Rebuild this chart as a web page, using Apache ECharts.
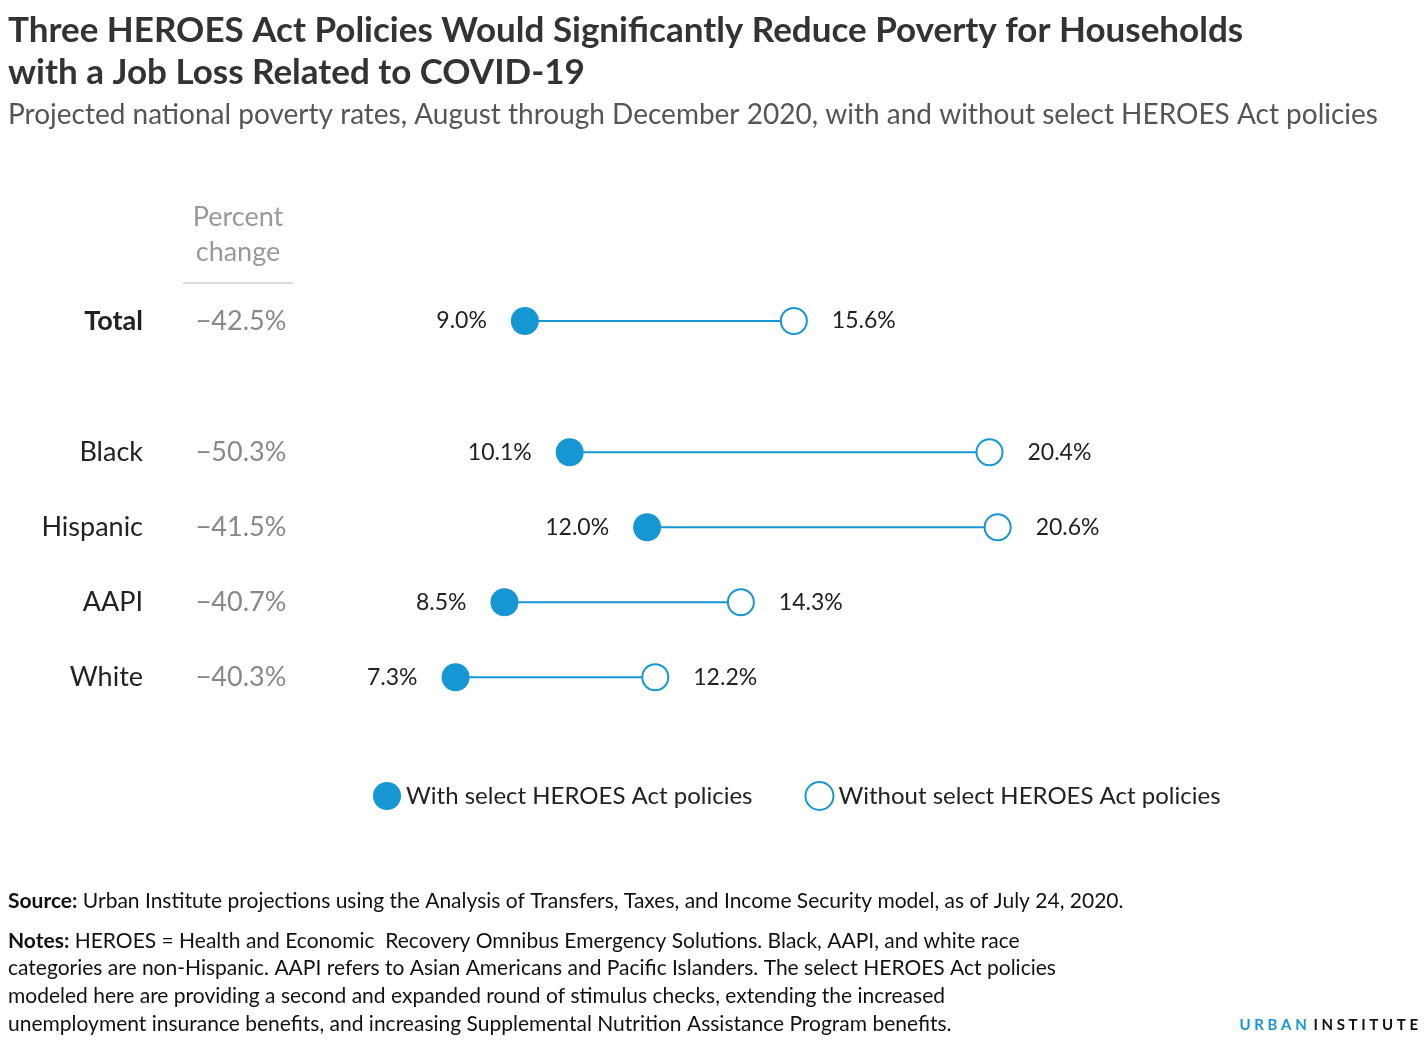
<!DOCTYPE html>
<html>
<head>
<meta charset="utf-8">
<script src="https://cdn.jsdelivr.net/npm/echarts@6/dist/echarts.min.js"></script>
<style>html,body{margin:0;background:#fff}#c{width:1428px;height:1043px}</style>
</head>
<body>
<div id="c"></div>
<script>
// 数据
var groups = ['Total', 'Black', 'Hispanic', 'AAPI', 'White'];
var rowPos = [0, 1.75, 2.75, 3.75, 4.75];
var pctChange = ['\u221242.5%', '\u221250.3%', '\u221241.5%', '\u221240.7%', '\u221240.3%'];
var withPolicy = [9.0, 10.1, 12.0, 8.5, 7.3];
var withoutPolicy = [15.6, 20.4, 20.6, 14.3, 12.2];

var blue = '#1696d2';
var font = 'Lato, "Open Sans", sans-serif';

var chart = echarts.init(document.getElementById('c'));

function pts(vals) {
    return vals.map(function (v, i) { return [v, rowPos[i]]; });
}
var segs = groups.map(function (g, i) { return [withPolicy[i], withoutPolicy[i], rowPos[i]]; });

var option = {
    animation: false,
    textStyle: { fontFamily: font },
    grid: { left: 158, width: 1019, top: 246, height: 525 },
    xAxis: { type: 'value', min: 0, max: 25, show: false },
    yAxis: { type: 'value', min: -1, max: 6, inverse: true, show: false },
    legend: {
        left: 368, top: 776, itemWidth: 28, itemHeight: 28, itemGap: 52,
        textStyle: { fontSize: 24, color: '#222', fontFamily: font },
        data: ['With select HEROES Act policies', 'Without select HEROES Act policies']
    },
    series: [
        {
            type: 'custom',
            data: segs,
            renderItem: function (params, api) {
                var a = api.coord([api.value(0), api.value(2)]);
                var b = api.coord([api.value(1), api.value(2)]);
                return { type: 'line', shape: { x1: a[0], y1: a[1], x2: b[0], y2: b[1] },
                    style: { stroke: blue, lineWidth: 2 } };
            },
            z: 1
        },
        {
            name: 'With select HEROES Act policies',
            type: 'scatter', symbol: 'circle', symbolSize: 28,
            itemStyle: { color: blue, opacity: 1 },
            data: pts(withPolicy),
            label: { show: true, position: 'left', distance: 24, fontSize: 23, color: '#222',
                formatter: function (p) { return p.value[0].toFixed(1) + '%'; } },
            z: 3
        },
        {
            name: 'Without select HEROES Act policies',
            type: 'scatter', symbol: 'circle', symbolSize: 26,
            itemStyle: { color: '#fff', borderColor: blue, borderWidth: 2, opacity: 1 },
            data: pts(withoutPolicy),
            label: { show: true, position: 'right', distance: 24, fontSize: 23, color: '#222',
                formatter: function (p) { return p.value[0].toFixed(1) + '%'; } },
            z: 3
        }
    ]
};
chart.setOption(option);

var g = [
    { type: 'text', left: 8, top: 10, style: { text: 'Three HEROES Act Policies Would Significantly Reduce Poverty for Households\nwith a Job Loss Related to COVID-19',
        font: 'bold 35px ' + font, fill: '#333', lineHeight: 42 } },
    { type: 'text', left: 8, top: 101, style: { text: 'Projected national poverty rates, August through December 2020, with and without select HEROES Act policies',
        font: '28px ' + font, fill: '#555' } },
    { type: 'text', x: 238, y: 200, style: { text: 'Percent\nchange', font: '27px ' + font, fill: '#999', align: 'center', lineHeight: 35 } },
    { type: 'line', shape: { x1: 183, y1: 283, x2: 293, y2: 283 }, style: { stroke: '#ddd', lineWidth: 2 } }
];
groups.forEach(function (name, i) {
    var y = chart.convertToPixel({ yAxisIndex: 0 }, rowPos[i]);
    g.push({ type: 'text', x: 143, y: y, style: { text: name, font: (i === 0 ? 'bold ' : '') + '27px ' + font,
        fill: '#222', align: 'right', verticalAlign: 'middle' } });
    g.push({ type: 'text', x: 241, y: y, style: { text: pctChange[i], font: '27px ' + font,
        fill: '#888', align: 'center', verticalAlign: 'middle' } });
});
g.push({ type: 'text', left: 8, top: 891, style: {
    text: '{b|Source:} Urban Institute projections using the Analysis of Transfers, Taxes, and Income Security model, as of July 24, 2020.',
    font: '21px ' + font, fill: '#111', rich: { b: { fontWeight: 'bold', fontSize: 21, fontFamily: font } } } });
g.push({ type: 'text', left: 8, top: 927, style: {
    text: '{b|Notes:} HEROES = Health and Economic  Recovery Omnibus Emergency Solutions. Black, AAPI, and white race\ncategories are non-Hispanic. AAPI refers to Asian Americans and Pacific Islanders. The select HEROES Act policies\nmodeled here are providing a second and expanded round of stimulus checks, extending the increased\nunemployment insurance benefits, and increasing Supplemental Nutrition Assistance Program benefits.',
    font: '21px ' + font, fill: '#111', lineHeight: 27.7, rich: { b: { fontWeight: 'bold', fontSize: 21, fontFamily: font, lineHeight: 27.7 } } } });
g.push({ type: 'text', right: 10, top: 1018, style: {
    text: '{u|U R B A N}  {i|I N S T I T U T E}',
    rich: { u: { fill: blue, fontWeight: 'bold', fontSize: 15, fontFamily: font },
            i: { fill: '#111', fontWeight: 'bold', fontSize: 15, fontFamily: font } } } });
chart.setOption({ graphic: g });
</script>
</body>
</html>
